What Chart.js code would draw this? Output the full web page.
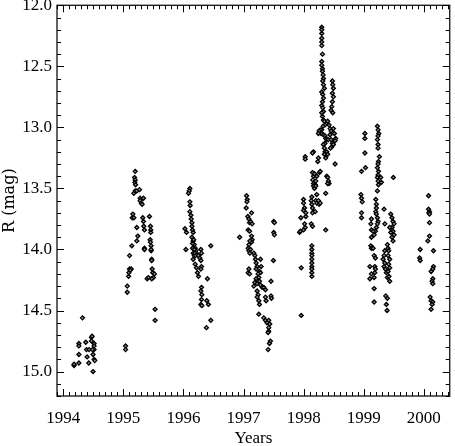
<!DOCTYPE html>
<html>
<head>
<meta charset="utf-8">
<script src="https://cdn.jsdelivr.net/npm/chart.js@4.4.1/dist/chart.umd.min.js"></script>
<style>
  html, body { margin: 0; padding: 0; background: #fff; }
  canvas { display: block; }
</style>
</head>
<body>
<canvas id="lightCurve" width="455" height="446"></canvas>
<script>
// R-band light curve, one array per observing season: [year, R mag]
const season1994 = [
  [1994.32,14.56],[1994.18,14.95],[1994.18,14.94],[1994.26,14.77],[1994.26,14.79],[1994.26,14.86],
  [1994.26,14.93],[1994.375,14.76],[1994.387,14.82],[1994.397,14.88],[1994.425,14.93],[1994.43,14.82],
  [1994.47,14.72],[1994.48,14.71],[1994.47,14.75],[1994.513,14.77],[1994.513,14.79],[1994.513,14.82],
  [1994.513,14.90],[1994.486,14.82],[1994.496,14.86],[1994.496,15.00],[1994.524,14.91]
];
const season1995 = [
  [1995.037,14.79],[1995.037,14.82],
  [1995.065,14.30],[1995.065,14.35],[1995.103,14.05],[1995.087,14.22],[1995.092,14.19],[1995.103,14.16],
  [1995.131,14.16],[1995.115,14.17],[1995.141,13.97],[1995.148,13.74],[1995.158,13.71],[1995.175,13.74],
  [1995.197,13.36],[1995.186,13.41],[1995.197,13.43],[1995.191,13.45],[1995.203,13.47],[1995.175,13.54],
  [1995.197,13.52],[1995.224,13.52],[1995.224,13.82],[1995.241,13.89],[1995.224,13.93],[1995.269,13.51],
  [1995.28,13.58],[1995.28,13.60],[1995.297,13.62],[1995.313,13.63],[1995.335,13.58],[1995.323,13.74],
  [1995.335,13.77],[1995.34,13.81],[1995.351,13.84],[1995.351,13.99],[1995.351,14.00],[1995.396,14.24],
  [1995.418,14.23],[1995.434,13.73],[1995.451,13.81],[1995.456,13.84],[1995.456,13.86],[1995.446,13.92],
  [1995.451,13.94],[1995.462,13.97],[1995.462,14.01],[1995.462,14.00],[1995.472,14.08],[1995.472,14.09],
  [1995.479,14.16],[1995.489,14.19],[1995.517,14.20],[1995.50,14.23],[1995.472,14.24],[1995.528,14.49],
  [1995.528,14.58]
];
const season1996 = [
  [1996.107,13.50],[1996.096,13.52],[1996.084,13.54],[1996.107,13.61],[1996.112,13.64],[1996.107,13.69],
  [1996.124,13.72],[1996.129,13.75],[1996.141,13.78],[1996.141,13.81],[1996.151,13.84],[1996.162,13.86],
  [1996.025,13.83],[1996.051,13.86],[1996.141,13.90],[1996.162,13.93],[1996.179,13.96],[1996.195,13.99],
  [1996.207,14.01],[1996.151,13.99],[1996.162,14.03],[1996.179,14.05],[1996.162,14.08],[1996.041,14.00],
  [1996.17,13.92],[1996.18,14.00],[1996.19,14.03],[1996.20,14.05],[1996.15,13.95],
  [1996.233,14.04],[1996.25,14.05],[1996.273,14.07],[1996.29,14.00],[1996.30,14.03],[1996.455,13.97],
  [1996.195,14.12],[1996.217,14.15],[1996.233,14.19],[1996.25,14.22],[1996.29,14.09],[1996.30,14.14],
  [1996.29,14.16],[1996.399,14.24],[1996.30,14.31],[1996.29,14.34],[1996.306,14.37],[1996.30,14.41],
  [1996.29,14.45],[1996.306,14.46],[1996.389,14.42],[1996.415,14.45],[1996.455,14.58],[1996.382,14.64]
];
const season1997 = [
  [1997.05,13.56],[1997.061,13.59],[1997.056,13.61],[1997.044,13.66],[1996.935,13.90],[1997.072,13.73],
  [1997.089,13.75],[1997.10,13.78],[1997.116,13.77],[1997.133,13.70],[1997.143,13.79],[1997.077,13.84],
  [1997.10,13.85],[1997.133,13.89],[1997.143,13.92],[1997.133,13.94],[1997.105,13.93],[1997.089,13.96],
  [1997.077,13.99],[1997.089,14.01],[1997.105,14.03],[1997.116,14.00],[1997.171,14.03],[1997.188,14.05],
  [1997.199,14.08],[1997.089,14.16],[1997.077,14.19],[1997.10,14.20],[1997.209,14.11],[1997.226,14.14],
  [1997.209,14.16],[1997.282,14.08],[1997.292,14.14],[1997.265,14.18],[1997.282,14.19],[1997.242,14.20],
  [1997.254,14.23],[1997.209,14.24],[1997.188,14.27],[1997.171,14.30],[1997.226,14.28],[1997.265,14.26],
  [1997.282,14.29],[1997.309,14.31],[1997.336,14.31],[1997.364,14.33],[1997.226,14.34],[1997.242,14.37],
  [1997.226,14.39],[1997.254,14.42],[1997.265,14.45],[1997.457,14.26],[1997.502,13.77],[1997.513,13.78],
  [1997.502,13.86],[1997.513,13.88],[1997.497,14.09],[1997.364,14.39],[1997.375,14.42],[1997.457,14.38],
  [1997.464,14.40],[1997.254,14.53],[1997.336,14.56],[1997.364,14.58],[1997.391,14.60],[1997.419,14.58],
  [1997.436,14.61],[1997.419,14.64],[1997.419,14.67],[1997.408,14.68],[1997.447,14.75],[1997.431,14.77],
  [1997.408,14.82]
];
const season1998 = [
  [1997.96,14.54],[1997.96,14.15],[1997.932,13.86],[1997.944,13.85],[1997.954,13.74],[1997.998,13.59],
  [1997.998,13.62],[1998.015,13.66],[1997.998,13.68],[1998.015,13.79],[1998.026,13.82],[1997.998,13.84],
  [1998.036,13.70],[1998.036,13.73],[1998.026,13.24],[1998.026,13.26],
  [1998.136,13.97],[1998.136,14.00],[1998.136,14.03],[1998.136,14.05],[1998.136,14.08],[1998.136,14.11],
  [1998.136,14.14],[1998.136,14.16],[1998.136,14.19],[1998.136,14.22],
  [1998.126,13.79],[1998.147,13.81],[1998.136,13.57],[1998.126,13.60],[1998.136,13.63],[1998.147,13.66],
  [1998.164,13.69],[1998.147,13.70],[1998.192,13.69],[1998.202,13.60],[1998.218,13.62],[1998.246,13.60],
  [1998.258,13.63],[1998.275,13.62],[1998.218,13.55],[1998.147,13.37],[1998.164,13.40],[1998.152,13.43],
  [1998.164,13.46],[1998.192,13.47],[1998.202,13.44],[1998.218,13.40],[1998.18,13.38],[1998.164,13.48],
  [1998.18,13.50],[1998.202,13.48],[1998.164,13.20],[1998.147,13.21],[1998.246,13.25],[1998.235,13.28],
  [1998.263,13.37],[1998.275,13.36],[1998.367,13.84],[1998.367,13.54],[1998.384,13.40],[1998.40,13.41],
  [1998.412,13.44],[1998.423,13.46],[1998.40,13.46],
  [1998.301,12.18],[1998.301,12.20],[1998.301,12.23],[1998.301,12.27],[1998.301,12.30],[1998.301,12.33],
  [1998.313,12.40],[1998.301,12.46],[1998.301,12.49],[1998.313,12.52],[1998.313,12.54],[1998.324,12.57],
  [1998.329,12.60],[1998.318,12.62],[1998.329,12.65],[1998.345,12.68],[1998.301,12.71],[1998.318,12.73],
  [1998.329,12.76],[1998.313,12.79],[1998.301,12.82],[1998.318,12.84],[1998.329,12.87],[1998.301,12.88],
  [1998.313,12.91],[1998.329,12.94],[1998.345,12.95],[1998.356,12.98],[1998.324,12.99],[1998.301,13.02],
  [1998.29,13.05],[1998.275,13.02],[1998.258,13.03],[1998.246,13.05],
  [1998.329,13.06],[1998.356,13.07],[1998.367,13.09],[1998.384,13.10],[1998.356,13.13],[1998.329,13.14],
  [1998.345,13.17],[1998.356,13.20],[1998.345,13.22],[1998.367,13.25],
  [1998.40,12.95],[1998.423,12.98],[1998.44,13.01],[1998.457,13.03],[1998.44,13.06],[1998.412,13.10],
  [1998.457,13.10],[1998.478,13.13],[1998.467,13.16],[1998.445,13.17],
  [1998.495,13.01],[1998.511,13.05],[1998.533,13.09],[1998.523,13.11],[1998.495,13.14],
  [1998.478,12.62],[1998.484,12.65],[1998.495,12.68],[1998.478,12.72],[1998.495,12.75],[1998.478,12.79],
  [1998.467,12.83],[1998.456,12.86],[1998.484,12.88],
  [1998.523,13.30],[1998.384,13.20],[1998.40,13.22]
];
const season1999 = [
  [1999.019,13.05],[1999.019,13.09],[1999.019,13.21],[1998.963,13.36],[1999.029,13.33],[1998.953,13.55],
  [1998.963,13.58],[1998.974,13.61],[1998.963,13.70],[1998.963,13.74],
  [1999.227,12.99],[1999.238,13.02],[1999.25,13.05],[1999.238,13.07],[1999.227,13.10],[1999.238,13.14],
  [1999.238,13.17],[1999.26,13.24],[1999.245,13.28],[1999.238,13.30],[1999.227,13.33],[1999.245,13.36],
  [1999.238,13.39],[1999.227,13.41],[1999.238,13.44],[1999.245,13.47],[1999.227,13.52],[1999.284,13.41],
  [1999.294,13.45],
  [1999.20,13.59],[1999.21,13.63],[1999.21,13.66],[1999.20,13.69],[1999.21,13.71],[1999.227,13.74],
  [1999.238,13.77],[1999.227,13.79],[1999.21,13.82],[1999.194,13.85],
  [1999.128,13.75],[1999.118,13.79],[1999.128,13.84],[1999.156,13.85],[1999.173,13.88],[1999.128,13.90],
  [1999.338,13.67],[1999.35,13.79],[1999.492,13.41],[1999.118,13.97],[1999.128,13.99],[1999.156,13.99],
  [1999.173,14.05],[1999.194,14.07],[1999.184,14.14],[1999.194,14.16],[1999.102,14.14],[1999.128,14.20],
  [1999.173,14.23],[1999.184,14.19],[1999.102,14.24],[1999.173,14.32],[1999.173,14.43],
  [1999.35,14.01],[1999.338,14.05],[1999.322,14.08],[1999.35,14.11],[1999.338,14.14],[1999.36,14.16],
  [1999.376,14.19],
  [1999.393,13.96],[1999.404,13.99],[1999.415,14.01],[1999.404,14.05],[1999.432,14.08],[1999.415,14.12],
  [1999.432,14.15],[1999.404,14.18],[1999.393,14.23],[1999.42,14.22],
  [1999.449,13.71],[1999.47,13.74],[1999.487,13.77],[1999.504,13.79],[1999.47,13.82],[1999.487,13.85],
  [1999.504,13.88],[1999.47,13.90],[1999.487,13.93],[1999.432,13.82],[1999.449,13.86],
  [1999.366,14.38],[1999.393,14.40],[1999.376,14.45],[1999.388,14.50],[1999.432,14.26]
];
const season2000 = [
  [2000.078,13.56],[2000.078,13.67],[2000.094,13.69],[2000.083,13.70],[2000.094,13.71],[2000.094,13.78],
  [2000.094,13.89],[2000.066,13.93],[1999.939,14.00],[1999.929,14.07],[1999.939,14.09],[2000.16,14.01],
  [2000.16,14.14],[2000.149,14.16],[2000.121,14.18],[2000.149,14.24],[2000.137,14.26],[2000.149,14.28],
  [2000.104,14.39],[2000.121,14.42],[2000.149,14.43],[2000.137,14.45],[2000.121,14.49]
];

const yearTicks = [1994, 1995, 1996, 1997, 1998, 1999, 2000];
const magTicks = [12.0, 12.5, 13.0, 13.5, 14.0, 14.5, 15.0];
const xRange = [1993.896, 2000.43];
const yRange = [12.0, 15.2];

const allPoints = [season1994, season1995, season1996, season1997, season1998, season1999, season2000]
  .flat()
  .map(p => ({ x: p[0], y: p[1] }));

const tickFont = { family: "'Liberation Serif', serif", size: 17 };

// inward ticks on all four sides, like an IDL plot frame
const frameTicks = {
  id: 'frameTicks',
  afterDraw(chart) {
    const ctx = chart.ctx;
    const a = chart.chartArea;
    const xs = chart.scales.x, ys = chart.scales.y;
    ctx.save();
    ctx.strokeStyle = '#222';
    ctx.lineWidth = 1.4;
    ctx.strokeRect(a.left, a.top, a.right - a.left, a.bottom - a.top);
    ctx.lineWidth = 1;
    ctx.strokeStyle = '#000';
    ctx.beginPath();
    // x: minor every 0.1 yr, major every year
    for (let i = Math.ceil(xRange[0] * 10); i <= Math.floor(xRange[1] * 10); i++) {
      const px = Math.round(xs.getPixelForValue(i / 10)) + 0.5;
      const len = (i % 10 === 0) ? 7 : 4;
      ctx.moveTo(px, a.bottom); ctx.lineTo(px, a.bottom - len);
      ctx.moveTo(px, a.top); ctx.lineTo(px, a.top + len);
    }
    // y: minor every 0.1 mag, major every 0.5
    for (let i = Math.ceil(yRange[0] * 10); i <= Math.floor(yRange[1] * 10); i++) {
      const py = Math.round(ys.getPixelForValue(i / 10)) + 0.5;
      const len = (i % 5 === 0) ? 7 : 4;
      ctx.moveTo(a.left, py); ctx.lineTo(a.left + len, py);
      ctx.moveTo(a.right, py); ctx.lineTo(a.right - len, py);
    }
    ctx.stroke();
    ctx.restore();
  }
};

const ctx = document.getElementById('lightCurve').getContext('2d');
const chart = new Chart(ctx, {
  type: 'scatter',
  data: {
    datasets: [{
      data: allPoints,
      pointStyle: 'rectRot',
      pointRadius: 2,
      borderWidth: 1.3,
      borderColor: '#000',
      backgroundColor: '#999'
    }]
  },
  options: {
    responsive: false,
    animation: false,
    layout: { padding: { top: 2.5, right: 3, left: 0, bottom: 0 } },
    plugins: { legend: { display: false }, tooltip: { enabled: false } },
    scales: {
      x: {
        type: 'linear',
        min: xRange[0],
        max: xRange[1],
        afterBuildTicks: s => { s.ticks = yearTicks.map(v => ({ value: v })); },
        afterFit: s => { s.height = 50; s.paddingLeft = 0; s.paddingRight = 0; },
        grid: { display: false, drawTicks: false },
        border: { display: false },
        ticks: { font: tickFont, color: '#000', padding: 12, maxRotation: 0, autoSkip: false,
                 callback: v => String(v) },
        title: { display: true, text: 'Years', color: '#000',
                 font: { family: "'Liberation Serif', serif", size: 17 }, padding: { top: 0, bottom: -3 } }
      },
      y: {
        type: 'linear',
        reverse: true,
        min: yRange[0],
        max: yRange[1],
        afterBuildTicks: s => { s.ticks = magTicks.map(v => ({ value: v })); },
        afterFit: s => { s.width = 57; s.paddingTop = 0; s.paddingBottom = 0; },
        grid: { display: false, drawTicks: false },
        border: { display: false },
        ticks: { font: tickFont, color: '#000', padding: 5, autoSkip: false,
                 callback: v => v.toFixed(1) },
        title: { display: true, text: 'R (mag)', color: '#000',
                 font: { family: "'DejaVu Serif', serif", size: 16 }, padding: { top: 0, bottom: 0 } }
      }
    }
  },
  plugins: [frameTicks]
});
</script>
</body>
</html>
